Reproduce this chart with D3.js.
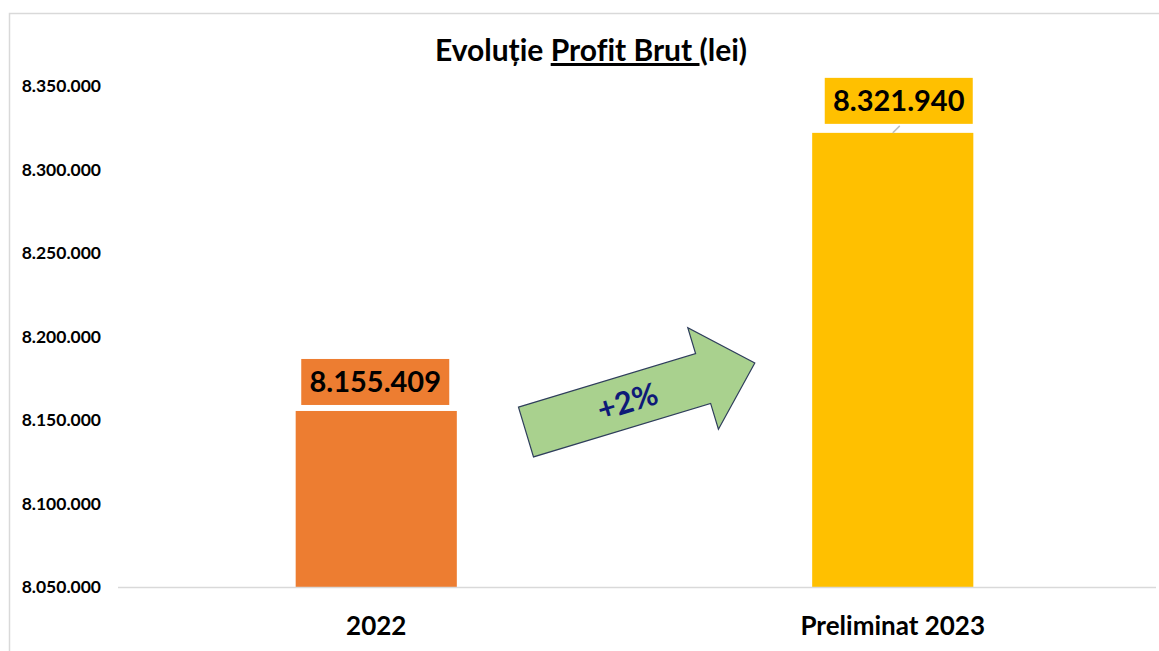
<!DOCTYPE html>
<html>
<head>
<meta charset="utf-8">
<script src="https://cdn.jsdelivr.net/npm/d3@7"></script>
<style>
  body { margin: 0; background: #fff; }
  text { font-family: Lato, "Open Sans", sans-serif; font-weight: bold; font-variant-ligatures: none; }
</style>
</head>
<body>
<div id="chart"></div>
<script>
// data
var categories = ["2022", "Preliminat 2023"];
var values = [8155409, 8321940];
var tickValues = [8050000, 8100000, 8150000, 8200000, 8250000, 8300000, 8350000];
var barColors = ["#ED7D31", "#FFC000"];
var growthLabel = "+2%";

var W = 1159, H = 651;
var margin = {top: 86, right: 8, bottom: 64, left: 118},
    width = W - margin.left - margin.right,
    height = H - margin.top - margin.bottom;

// number format with dots as thousands separator
var fmt = d3.formatLocale({decimal: ",", thousands: ".", grouping: [3], currency: ["", " lei"]}).format(",d");

var svg = d3.select("#chart").append("svg")
    .attr("width", W)
    .attr("height", H);

// chart frame
svg.append("rect")
    .attr("x", 9.5).attr("y", 13.5)
    .attr("width", W).attr("height", H)
    .attr("fill", "none")
    .attr("stroke", "#d9d9d9")
    .attr("stroke-width", 1.5);

// title
var title = svg.append("text")
    .attr("x", 591).attr("y", 61)
    .attr("text-anchor", "middle")
    .attr("font-size", 30)
    .style("white-space", "pre")
    .attr("fill", "#000");
title.append("tspan").text("Evoluție ");
title.append("tspan").text("Profit Brut ").style("text-decoration", "underline");
title.append("tspan").text("(lei)");

var g = svg.append("g")
    .attr("transform", "translate(" + margin.left + "," + margin.top + ")");

var x = d3.scaleBand()
    .domain(categories)
    .range([0, width])
    .paddingInner(0.688)
    .paddingOuter(0.344);

var y = d3.scaleLinear()
    .domain([8050000, 8350000])
    .range([height, 0]);

// y axis labels (no line, no ticks)
var yAxis = g.append("g")
    .call(d3.axisLeft(y).tickValues(tickValues).tickFormat(fmt).tickSize(0).tickPadding(17));
yAxis.select(".domain").remove();
yAxis.selectAll("text")
    .attr("font-size", 17.5)
    .attr("font-family", "Lato, sans-serif")
    .attr("font-weight", "bold")
    .attr("fill", "#000");

// bars
g.selectAll(".bar")
    .data(values)
    .enter().append("rect")
    .attr("class", "bar")
    .attr("x", function(d, i) { return x(categories[i]); })
    .attr("y", function(d) { return y(d); })
    .attr("width", x.bandwidth())
    .attr("height", function(d) { return height - y(d); })
    .attr("fill", function(d, i) { return barColors[i]; });

// baseline
g.append("line")
    .attr("x1", 0).attr("x2", width + 5)
    .attr("y1", height + 0.5).attr("y2", height + 0.5)
    .attr("stroke", "#d9d9d9")
    .attr("stroke-width", 1.5);

// x axis labels
var xAxis = g.append("g")
    .attr("transform", "translate(0," + height + ")")
    .call(d3.axisBottom(x).tickSize(0).tickPadding(30));
xAxis.select(".domain").remove();
xAxis.selectAll("text")
    .attr("font-size", 26)
    .attr("font-family", "Lato, sans-serif")
    .attr("font-weight", "bold")
    .attr("fill", "#000");

// data labels in coloured boxes
var labelOffsets = [{dx: -1, gap: 6}, {dx: 6, gap: 9}];
var boxW = 148, boxH = 46;
var labels = g.selectAll(".lbl")
    .data(values)
    .enter().append("g")
    .attr("class", "lbl")
    .attr("transform", function(d, i) {
        var cx = x(categories[i]) + x.bandwidth() / 2 + labelOffsets[i].dx;
        var by = y(d) - labelOffsets[i].gap;
        return "translate(" + cx + "," + by + ")";
    });
labels.append("rect")
    .attr("x", -boxW / 2).attr("y", -boxH)
    .attr("width", boxW).attr("height", boxH)
    .attr("fill", function(d, i) { return barColors[i]; });
labels.append("text")
    .attr("text-anchor", "middle")
    .attr("y", -boxH / 2)
    .attr("dy", "0.36em")
    .attr("font-size", 29)
    .attr("fill", "#000")
    .text(function(d) { return fmt(d); });

// leader line for the second label
g.append("line")
    .attr("x1", x(categories[1]) + x.bandwidth() / 2 + 7)
    .attr("y1", y(values[1]) - 7)
    .attr("x2", x(categories[1]) + x.bandwidth() / 2)
    .attr("y2", y(values[1]))
    .attr("stroke", "#bfbfbf")
    .attr("stroke-width", 1.5);

// growth arrow between the bars
var L = 239, shaft = 26, head = 53, headLen = 54;
var arrowPts = [[0, -shaft], [L - headLen, -shaft], [L - headLen, -head], [L, 0],
                [L - headLen, head], [L - headLen, shaft], [0, shaft]];
var arrow = svg.append("g")
    .attr("transform", "translate(526,432) rotate(-16.8)");
arrow.append("path")
    .attr("d", d3.line()(arrowPts) + "Z")
    .attr("fill", "#A9D18E")
    .attr("stroke", "#2F3E5C")
    .attr("stroke-width", 1.2);
arrow.append("text")
    .attr("x", 106).attr("y", 0)
    .attr("dy", "0.36em")
    .attr("text-anchor", "middle")
    .attr("font-size", 31)
    .attr("fill", "#0E1A78")
    .text(growthLabel);
</script>
</body>
</html>
